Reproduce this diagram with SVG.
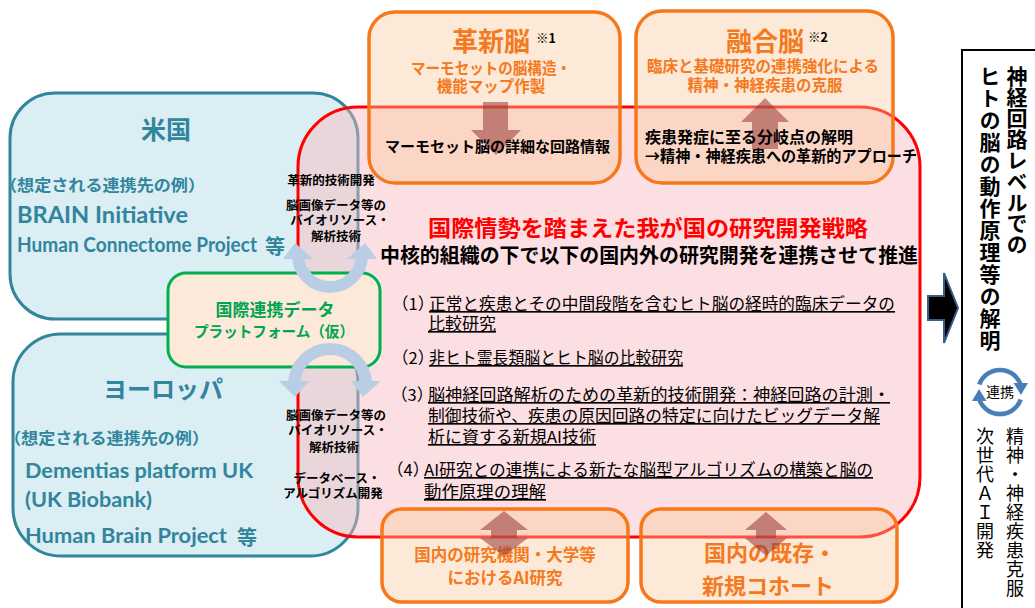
<svg xmlns="http://www.w3.org/2000/svg" width="1035" height="608" viewBox="0 0 1035 608">
<defs>
<style>
text{font-family:"Noto Sans CJK JP","Noto Sans CJK SC",sans-serif;}
.b{font-weight:700}
.teal{fill:#31859c}
.or{fill:#f47920;font-weight:700}
.lat{font-family:Lato,"Liberation Sans",sans-serif;font-weight:700;fill:#31859c}
.region{fill:#daeef3;stroke:#31859c;stroke-width:3}
.obox{fill:#fbc89c;fill-opacity:0.4;stroke:#f7771b;stroke-width:3.5}
.flow{fill:#953735;fill-opacity:0.55}
.sm{font-size:12.5px;font-weight:700;text-anchor:middle}
.item{font-size:16.5px}
.u{text-decoration:underline}
.ring{fill:none;stroke:#b9cde5;stroke-width:12}
.ringh{fill:#b9cde5}
.mid{text-anchor:middle}
.vt{writing-mode:vertical-rl}
.cyc{fill:none;stroke:#4a7ebb;stroke-width:4.5}
</style>
</defs>
<rect width="1035" height="608" fill="#ffffff"/>

<g id="usa">
<rect class="region" x="10" y="93" width="348" height="226" rx="45"/>
<text class="b teal mid" x="166" y="139" font-size="25">米国</text>
<text class="b teal" x="0" y="191" font-size="16" textLength="205" lengthAdjust="spacingAndGlyphs">（想定される連携先の例）</text>
<text class="lat" x="17" y="223" font-size="22" textLength="171" lengthAdjust="spacingAndGlyphs">BRAIN Initiative</text>
<text class="lat" x="17" y="252" font-size="21" textLength="240" lengthAdjust="spacingAndGlyphs">Human Connectome Project</text>
<text class="b teal" x="265" y="254" font-size="20">等</text>
</g>

<g id="europe">
<rect class="region" x="13" y="334" width="345" height="222" rx="48"/>
<text class="b teal mid" x="163" y="398" font-size="24">ヨーロッパ</text>
<text class="b teal" x="4" y="444" font-size="16" textLength="205" lengthAdjust="spacingAndGlyphs">（想定される連携先の例）</text>
<text class="lat" x="25" y="478" font-size="21" textLength="228" lengthAdjust="spacingAndGlyphs">Dementias platform UK</text>
<text class="lat" x="25" y="507" font-size="21" textLength="127" lengthAdjust="spacingAndGlyphs">(UK Biobank)</text>
<text class="lat" x="25" y="543" font-size="21" textLength="202" lengthAdjust="spacingAndGlyphs">Human Brain Project</text>
<text class="b teal" x="237" y="545" font-size="20">等</text>
</g>

<g id="strategy">
<rect x="298" y="107" width="622" height="430" rx="60" fill="#f9b8bf" fill-opacity="0.45" stroke="#ff0000" stroke-width="3"/>
<text class="b mid" x="648" y="236" font-size="22" fill="#ff0000" textLength="440" lengthAdjust="spacingAndGlyphs">国際情勢を踏まえた我が国の研究開発戦略</text>
<text class="b" x="380" y="263" font-size="20" textLength="538" lengthAdjust="spacingAndGlyphs">中核的組織の下で以下の国内外の研究開発を連携させて推進</text>
<text class="item" x="392" y="310">（1）</text>
<text class="item u" x="429" y="310" textLength="466" lengthAdjust="spacingAndGlyphs">正常と疾患とその中間段階を含むヒト脳の経時的臨床データの</text>
<text class="item u" x="428" y="330" textLength="68" lengthAdjust="spacingAndGlyphs">比較研究</text>
<text class="item" x="392" y="364">（2）</text>
<text class="item u" x="429" y="364" textLength="254" lengthAdjust="spacingAndGlyphs">非ヒト霊長類脳とヒト脳の比較研究</text>
<text class="item" x="391" y="401">（3）</text>
<text class="item u" x="428" y="401" textLength="462" lengthAdjust="spacingAndGlyphs">脳神経回路解析のための革新的技術開発：神経回路の計測・</text>
<text class="item u" x="428" y="422" textLength="452" lengthAdjust="spacingAndGlyphs">制御技術や、疾患の原因回路の特定に向けたビッグデータ解</text>
<text class="item u" x="428" y="443" textLength="168" lengthAdjust="spacingAndGlyphs">析に資する新規AI技術</text>
<text class="item" x="387" y="476">（4）</text>
<text class="item u" x="424" y="476" textLength="449" lengthAdjust="spacingAndGlyphs">AI研究との連携による新たな脳型アルゴリズムの構築と脳の</text>
<text class="item u" x="424" y="498" textLength="122" lengthAdjust="spacingAndGlyphs">動作原理の理解</text>
</g>

<g id="kakushin">
<rect class="obox" x="369" y="12" width="251" height="171" rx="26"/>
<text class="or mid" x="491" y="51" font-size="26">革新脳</text>
<text class="b" x="536" y="43" font-size="12.5">※1</text>
<text class="or mid" x="491" y="74" font-size="15.5" textLength="160" lengthAdjust="spacingAndGlyphs">マーモセットの脳構造・</text>
<text class="or mid" x="491" y="92" font-size="15.5">機能マップ作製</text>
</g>

<g id="yugo">
<rect class="obox" x="636" y="11" width="257" height="172" rx="26"/>
<text class="or mid" x="765" y="51" font-size="26">融合脳</text>
<text class="b" x="808" y="42" font-size="12.5">※2</text>
<text class="or mid" x="763" y="72" font-size="15.5">臨床と基礎研究の連携強化による</text>
<text class="or mid" x="765" y="91" font-size="15.5">精神・神経疾患の克服</text>
</g>

<g id="lab-ai">
<rect class="obox" x="382" y="509" width="246" height="93" rx="20"/>
<text class="or mid" x="505" y="561" font-size="16.5">国内の研究機関・大学等</text>
<text class="or mid" x="505" y="584" font-size="16.5">におけるAI研究</text>
</g>

<g id="cohort">
<rect class="obox" x="641" y="509" width="256" height="93" rx="20"/>
<text class="or mid" x="770" y="561" font-size="22">国内の既存・</text>
<text class="or mid" x="768" y="594" font-size="22">新規コホート</text>
</g>

<g id="platform">
<rect x="168" y="273" width="212" height="94" rx="18" fill="#fde9d9" stroke="#00b050" stroke-width="3"/>
<text class="b mid" x="275" y="316" font-size="17" fill="#00a550">国際連携データ</text>
<text class="b mid" x="274" y="337" font-size="15" fill="#00a550" textLength="160" lengthAdjust="spacingAndGlyphs">プラットフォーム（仮）</text>
</g>

<g id="goal">
<path d="M962,610 V50 H1037" fill="none" stroke="#000" stroke-width="2"/>
<text class="b vt" x="1017" y="66" font-size="21">神経回路レベルでの</text>
<text class="b vt" x="990" y="66" font-size="21" letter-spacing="1">ヒトの脳の動作原理等の解明</text>
<path class="cyc" d="M979.3,384.5 A22,22 0 0 1 1020.7,384.5"/>
<polygon points="1013.5,383 1028,383 1021,395" fill="#4a7ebb"/>
<path class="cyc" d="M1020.7,399.5 A22,22 0 0 1 979.3,399.5"/>
<polygon points="972,401 986.5,401 979,389" fill="#4a7ebb"/>
<text class="mid" x="1000" y="397" font-size="14">連携</text>
<text class="vt" x="1015" y="427" font-size="18" letter-spacing="1">精神・神経疾患克服</text>
<text class="vt" x="985" y="427" font-size="18" letter-spacing="1">次世代ＡＩ開発</text>
</g>

<g id="connectors">
<polygon class="flow" points="483,102 508,102 508,130 521,130 496,155 471,130 483,130"/>
<text class="b" x="385" y="152" font-size="15">マーモセット脳の詳細な回路情報</text>
<polygon class="flow" points="765,98 789,122 778,122 778,149 752,149 752,122 741,122"/>
<text class="b" x="645" y="143" font-size="16">疾患発症に至る分岐点の解明</text>
<text class="b" x="645" y="162" font-size="16" textLength="272" lengthAdjust="spacingAndGlyphs">→精神・神経疾患への革新的アプローチ</text>

<path class="ring" d="M298,255 A32,32 0 0 0 362,255"/>
<polygon class="ringh" points="283,259 313,259 295,243"/>
<polygon class="ringh" points="347,259 377,259 365,243"/>
<path class="ring" d="M294,385 A36,36 0 0 1 366,385"/>
<polygon class="ringh" points="279,381 309,381 295,397"/>
<polygon class="ringh" points="351,381 381,381 363,397"/>

<text class="sm" x="331" y="185">革新的技術開発</text>
<text class="sm" x="336" y="210">脳画像データ等の</text>
<text class="sm" x="340" y="225">バイオリソース・</text>
<text class="sm" x="336" y="241">解析技術</text>
<text class="sm" x="336" y="420">脳画像データ等の</text>
<text class="sm" x="338" y="435">バイオリソース・</text>
<text class="sm" x="334" y="452">解析技術</text>
<text class="sm" x="337" y="483">データベース・</text>
<text class="sm" x="333" y="498">アルゴリズム開発</text>

<polygon class="flow" points="504,511 528,530 517,530 517,538 528,538 504,556 480,538 491,538 491,530 480,530"/>
<polygon class="flow" points="766,512 787,530 776,530 776,538 787,538 766,556 745,538 756,538 756,530 745,530"/>

<polygon points="928,296 944,296 944,273 958,308 944,343 944,320 928,320" fill="#000" stroke="#385d8a" stroke-width="2"/>
</g>
</svg>
